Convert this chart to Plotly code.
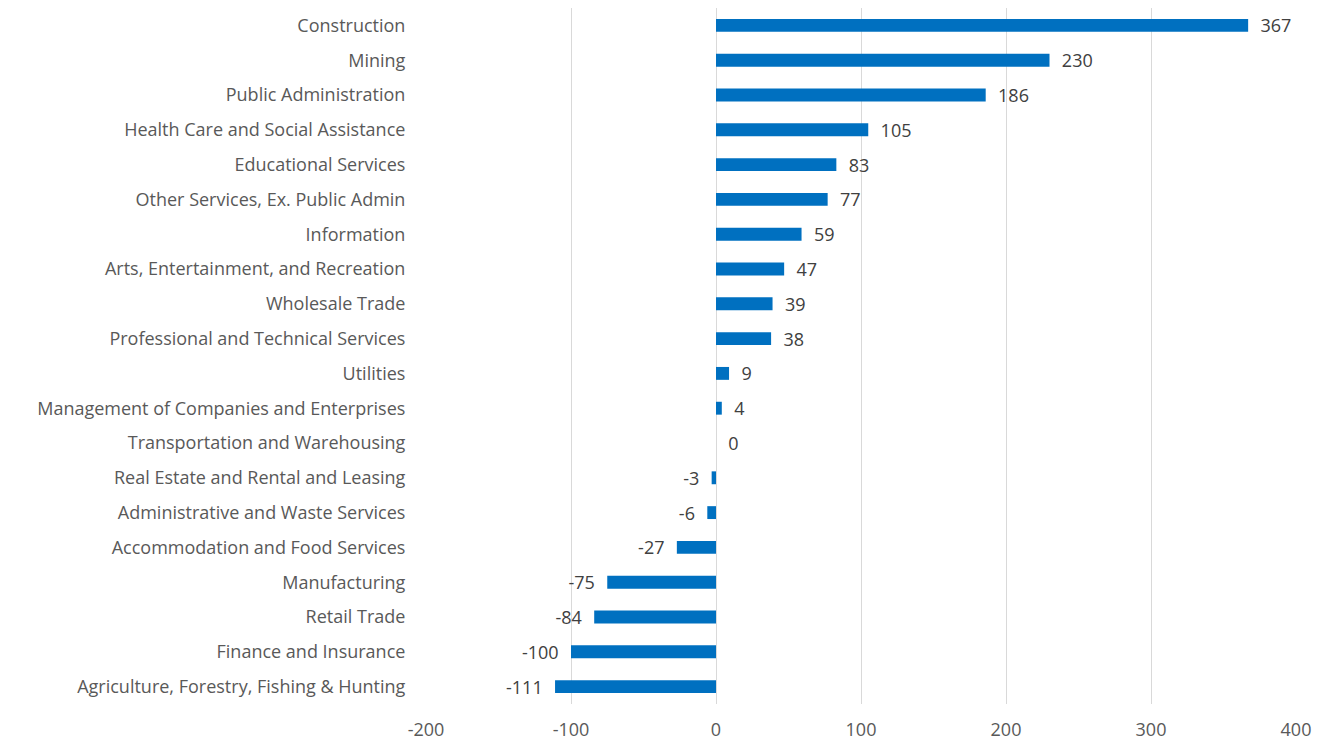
import plotly.graph_objects as go

# Industries, top to bottom as shown
industries = [
    'Construction', 'Mining', 'Public Administration',
    'Health Care and Social Assistance', 'Educational Services',
    'Other Services, Ex. Public Admin', 'Information',
    'Arts, Entertainment, and Recreation', 'Wholesale Trade',
    'Professional and Technical Services', 'Utilities',
    'Management of Companies and Enterprises',
    'Transportation and Warehousing', 'Real Estate and Rental and Leasing',
    'Administrative and Waste Services', 'Accommodation and Food Services',
    'Manufacturing', 'Retail Trade', 'Finance and Insurance',
    'Agriculture, Forestry, Fishing & Hunting',
]
values = [367, 230, 186, 105, 83, 77, 59, 47, 39, 38, 9, 4, 0, -3, -6, -27, -75, -84, -100, -111]
x_ticks = [-200, -100, 0, 100, 200, 300, 400]

FONT = 'Open Sans'

# pad labels away from the bar ends
labels = [f'\u00a0\u00a0{v}' if v >= 0 else f'{v}\u00a0\u00a0' for v in values]

fig = go.Figure()

fig.add_trace(go.Bar(
    y=industries,
    x=values,
    orientation='h',
    marker=dict(color='#0070C0', line=dict(width=0)),
    text=labels,
    textposition='outside',
    constraintext='none',
    textfont=dict(family=FONT, size=18, color='#404040'),
    cliponaxis=False,
    hoverinfo='x+y'
))

# page body has an 8px margin, so the figure is sized to fit inside the window
fig.update_layout(
    width=1312,
    height=735,
    plot_bgcolor='white',
    paper_bgcolor='white',
    bargap=0.63,
    showlegend=False,
    margin=dict(l=418, r=24, t=0, b=39),
    font=dict(family=FONT, size=18, color='#595959'),
    xaxis=dict(
        range=[-200, 400],
        tickvals=x_ticks,
        ticktext=[str(t) for t in x_ticks],
        showgrid=True,
        gridcolor='#D9D9D9',
        gridwidth=1.3,
        zeroline=True,
        zerolinecolor='#D9D9D9',
        zerolinewidth=1.3,
        ticks='outside',
        ticklen=9,
        tickcolor='rgba(0,0,0,0)',
        tickfont=dict(family=FONT, size=18, color='#595959'),
        automargin=False,
        fixedrange=True
    ),
    yaxis=dict(
        categoryorder='array',
        categoryarray=industries[::-1],
        showgrid=False,
        zeroline=False,
        ticks='outside',
        ticklen=16,
        tickcolor='rgba(0,0,0,0)',
        tickfont=dict(family=FONT, size=18, color='#595959'),
        automargin=False,
        fixedrange=True
    )
)

fig.write_html("out.html")
